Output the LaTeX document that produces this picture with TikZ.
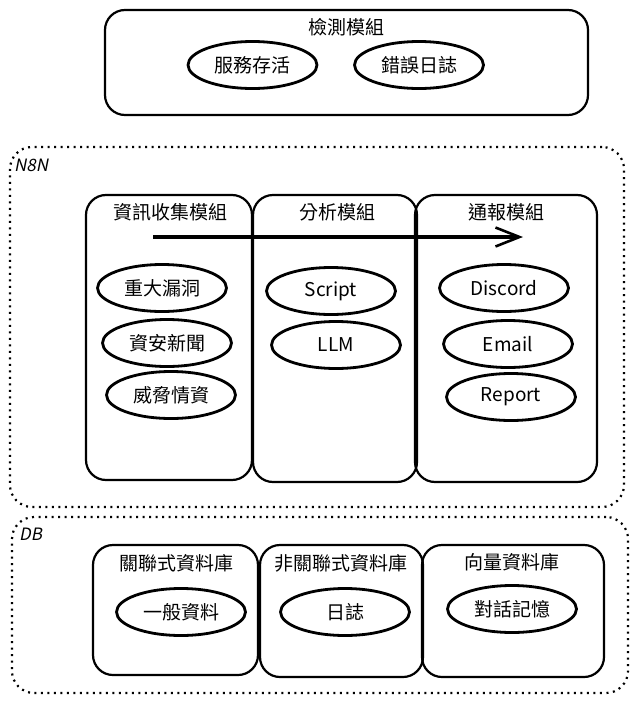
\documentclass[tikz,border=0pt]{standalone}
\usepackage{fontspec}
\setmainfont{Noto Sans CJK TC}
\newfontfamily\slantfont[FakeSlant=0.2]{Noto Sans CJK TC}
\usepackage{tikz}
\usetikzlibrary{arrows.meta,shapes.geometric}

\tikzset{
  modbox/.style={draw,line width=2.2pt,rounded corners=20pt,inner sep=0pt},
  groupbox/.style={draw,line width=2.2pt,dash pattern=on 2pt off 4.5pt,rounded corners=22pt,inner sep=0pt},
  item/.style={draw,ellipse,line width=2.8pt,inner sep=0pt,minimum width=129pt,minimum height=47pt,font=\fontsize{19}{22}\selectfont},
  title/.style={font=\fontsize{19}{22}\selectfont,inner sep=1pt},
  grouplabel/.style={font=\fontsize{17}{19}\selectfont\slantfont,anchor=west,inner sep=1pt}
}

\begin{document}
\begin{tikzpicture}[x=1pt,y=-1pt]
    \useasboundingbox[fill=white] (0,0) rectangle (638,704);

    % Detection module
    \node[modbox,minimum width=483pt,minimum height=105pt] (detect) at (346.5,62.5) {};
    \node[title] (detecttitle) at (346,27) {檢測模組};
    \node[item] (alive) at (252.5,65) {服務存活};
    \node[item] (errlog) at (419,65) {錯誤日誌};

    % N8N group
    \node[groupbox,minimum width=614pt,minimum height=360pt] (n8n) at (317,327) {};
    \node[grouplabel] (n8nlabel) at (13,165) {N8N};

    \node[modbox,minimum width=166pt,minimum height=285pt] (collect) at (169,337.5) {};
    \node[modbox,minimum width=164pt,minimum height=287pt] (analyze) at (335,338.5) {};
    \node[modbox,minimum width=182pt,minimum height=287pt] (notify) at (506,338.5) {};
    \node[title] (collecttitle) at (170,212) {資訊收集模組};
    \node[title] (analyzetitle) at (337,212) {分析模組};
    \node[title] (notifytitle) at (506,212) {通報模組};

    \node[item] (vuln) at (162,288) {重大漏洞};
    \node[item] (news) at (167,343) {資安新聞};
    \node[item] (threat) at (171,395) {威脅情資};

    \node[item] (script) at (331,291) {Script};
    \node[item] (llm) at (336,345) {LLM};

    \node[item] (discord) at (504,288) {Discord};
    \node[item] (email) at (508,344) {Email};
    \node[item] (report) at (511,397) {Report};

    % Flow arrow
    \coordinate (flowstart) at (153,237);
    \coordinate (flowend) at (523,237);
    \draw[-{Straight Barb[length=24pt,width=19pt,line width=2.6pt]},line width=3.2pt] (flowstart) -- (flowend);

    % DB group
    \node[groupbox,minimum width=616pt,minimum height=176pt] (db) at (320,605) {};
    \node[grouplabel] (dblabel) at (18,534) {DB};

    \node[modbox,minimum width=165pt,minimum height=130pt] (rdb) at (175.5,610) {};
    \node[modbox,minimum width=163pt,minimum height=132pt] (nosql) at (341.5,611) {};
    \node[modbox,minimum width=182pt,minimum height=132pt] (vecdb) at (513,611) {};
    \node[title] (rdbtitle) at (176,563) {關聯式資料庫};
    \node[title] (nosqltitle) at (341,563) {非關聯式資料庫};
    \node[title] (vecdbtitle) at (512,562) {向量資料庫};

    \node[item] (general) at (181,612) {一般資料};
    \node[item] (logs) at (345,612) {日誌};
    \node[item] (memory) at (512,609) {對話記憶};
\end{tikzpicture}
\end{document}
